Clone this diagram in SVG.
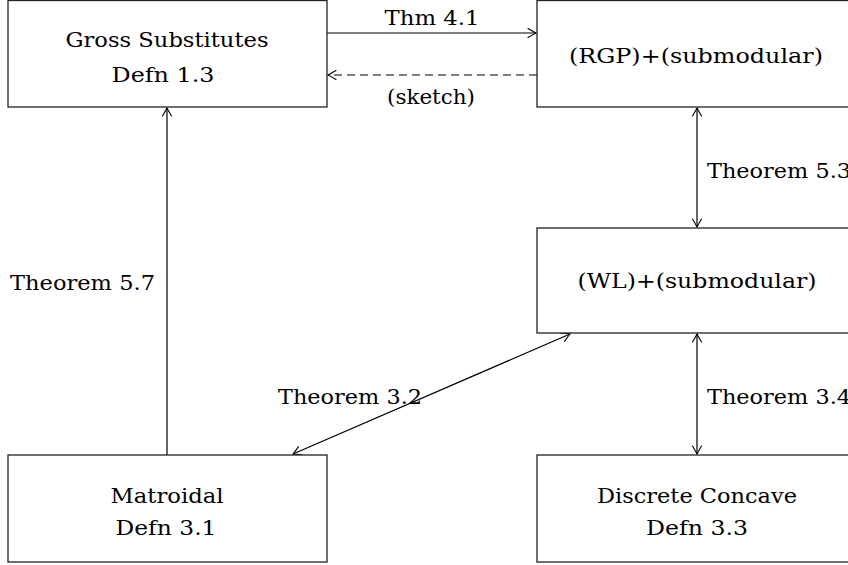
<svg xmlns="http://www.w3.org/2000/svg" width="848" height="565" viewBox="0 0 848 565">
<defs>
<marker id="arr" viewBox="-10 -6 12 12" refX="0" refY="0" markerWidth="12" markerHeight="12" markerUnits="userSpaceOnUse" orient="auto-start-reverse">
<path d="M-8,-4.5 Q-3,-1.5 0,0 Q-3,1.5 -8,4.5" fill="none" stroke="#000" stroke-width="1.1" stroke-linecap="round"/>
</marker>
<style>
.box{fill:#fff;stroke:#222;stroke-width:1.3}
.t{font-family:"DejaVu Serif","Liberation Serif",serif;font-size:20px;fill:#000}
.m{text-anchor:middle}
.c{fill:none;stroke:#000;stroke-width:1.2}
</style>
</defs>
<rect width="848" height="565" fill="#fff"/>
<g id="connectors">
<line class="c" x1="327" y1="33" x2="536" y2="33" marker-end="url(#arr)"/>
<line class="c" x1="537" y1="75" x2="328" y2="75" stroke-dasharray="8,5" marker-end="url(#arr)"/>
<line class="c" x1="697" y1="108" x2="697" y2="227" marker-start="url(#arr)" marker-end="url(#arr)"/>
<line class="c" x1="697" y1="334" x2="697" y2="454" marker-start="url(#arr)" marker-end="url(#arr)"/>
<line class="c" x1="167" y1="455" x2="167" y2="108" marker-end="url(#arr)"/>
<line class="c" x1="570" y1="334" x2="293" y2="454" marker-start="url(#arr)" marker-end="url(#arr)"/>
<text class="t m" x="432" y="25" textLength="95" lengthAdjust="spacingAndGlyphs">Thm 4.1</text>
<text class="t m" x="431" y="104" textLength="88" lengthAdjust="spacingAndGlyphs">(sketch)</text>
<text class="t" x="707" y="178" textLength="144" lengthAdjust="spacingAndGlyphs">Theorem 5.3</text>
<text class="t" x="10" y="290" textLength="145" lengthAdjust="spacingAndGlyphs">Theorem 5.7</text>
<text class="t" x="278" y="404" textLength="144" lengthAdjust="spacingAndGlyphs">Theorem 3.2</text>
<text class="t" x="707" y="404" textLength="144" lengthAdjust="spacingAndGlyphs">Theorem 3.4</text>
</g>
<g id="gross">
<rect class="box" x="8" y="0.5" width="319" height="106.5"/>
<text class="t m" x="167" y="47" textLength="203" lengthAdjust="spacingAndGlyphs">Gross Substitutes</text>
<text class="t m" x="163" y="82" textLength="103" lengthAdjust="spacingAndGlyphs">Defn 1.3</text>
</g>
<g id="rgp">
<rect class="box" x="537" y="0.5" width="320" height="106.5"/>
<text class="t m" x="696" y="63" textLength="254" lengthAdjust="spacingAndGlyphs">(RGP)+(submodular)</text>
</g>
<g id="wl">
<rect class="box" x="537" y="228" width="320" height="105"/>
<text class="t m" x="697" y="288" textLength="239" lengthAdjust="spacingAndGlyphs">(WL)+(submodular)</text>
</g>
<g id="matroidal">
<rect class="box" x="8" y="455" width="319" height="107"/>
<text class="t m" x="167" y="503" textLength="113" lengthAdjust="spacingAndGlyphs">Matroidal</text>
<text class="t m" x="166" y="535" textLength="101" lengthAdjust="spacingAndGlyphs">Defn 3.1</text>
</g>
<g id="discrete">
<rect class="box" x="537" y="455" width="320" height="107"/>
<text class="t m" x="697" y="503" textLength="200" lengthAdjust="spacingAndGlyphs">Discrete Concave</text>
<text class="t m" x="697" y="535" textLength="102" lengthAdjust="spacingAndGlyphs">Defn 3.3</text>
</g>
</svg>
